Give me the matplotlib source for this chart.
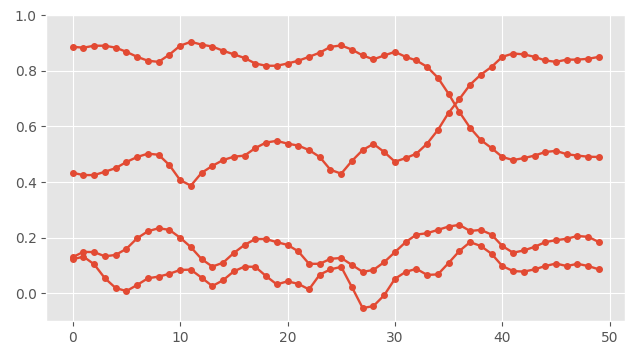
import matplotlib
matplotlib.use('Agg')
import matplotlib.pyplot as plt
import numpy as np

plt.style.use('ggplot')

x = np.arange(50)

line_a = [0.886, 0.883, 0.890, 0.890, 0.883, 0.868, 0.850, 0.836, 0.832, 0.858,
          0.890, 0.904, 0.894, 0.887, 0.872, 0.859, 0.846, 0.826, 0.818, 0.818,
          0.826, 0.836, 0.850, 0.865, 0.886, 0.891, 0.876, 0.855, 0.841, 0.855,
          0.868, 0.850, 0.837, 0.814, 0.775, 0.717, 0.652, 0.595, 0.551, 0.522,
          0.490, 0.479, 0.486, 0.495, 0.508, 0.512, 0.500, 0.495, 0.491, 0.490]

line_b = [0.433, 0.425, 0.425, 0.437, 0.450, 0.472, 0.490, 0.502, 0.498, 0.461,
          0.407, 0.387, 0.433, 0.458, 0.479, 0.491, 0.495, 0.522, 0.542, 0.548,
          0.538, 0.531, 0.515, 0.490, 0.444, 0.430, 0.476, 0.515, 0.537, 0.508,
          0.473, 0.486, 0.502, 0.538, 0.587, 0.649, 0.698, 0.750, 0.786, 0.814,
          0.850, 0.862, 0.859, 0.850, 0.837, 0.832, 0.840, 0.840, 0.843, 0.850]

line_c = [0.130, 0.149, 0.148, 0.133, 0.138, 0.160, 0.198, 0.223, 0.234, 0.228,
          0.200, 0.166, 0.123, 0.096, 0.110, 0.145, 0.174, 0.195, 0.195, 0.184,
          0.174, 0.151, 0.106, 0.106, 0.124, 0.127, 0.102, 0.077, 0.084, 0.112,
          0.148, 0.184, 0.211, 0.216, 0.228, 0.240, 0.246, 0.224, 0.228, 0.211,
          0.170, 0.146, 0.154, 0.167, 0.184, 0.191, 0.196, 0.206, 0.203, 0.184]

line_d = [0.122, 0.132, 0.104, 0.054, 0.019, 0.008, 0.030, 0.054, 0.060, 0.070,
          0.084, 0.085, 0.056, 0.026, 0.047, 0.079, 0.096, 0.095, 0.062, 0.032,
          0.043, 0.034, 0.014, 0.067, 0.086, 0.095, 0.022, -0.053, -0.046, -0.007,
          0.052, 0.077, 0.088, 0.066, 0.068, 0.109, 0.152, 0.184, 0.170, 0.142,
          0.098, 0.080, 0.078, 0.086, 0.098, 0.107, 0.098, 0.106, 0.098, 0.086]

fig, ax = plt.subplots(figsize=(6.4, 3.6), dpi=100)
for ys in (line_a, line_b, line_c, line_d):
    ax.plot(x, ys, color='#E24A33', marker='o', markersize=4, linewidth=1.7)

ax.set_ylim(-0.1, 1.0)
fig.subplots_adjust(left=0.0725, right=0.977, top=0.958, bottom=0.108)
fig.savefig('out.png')
